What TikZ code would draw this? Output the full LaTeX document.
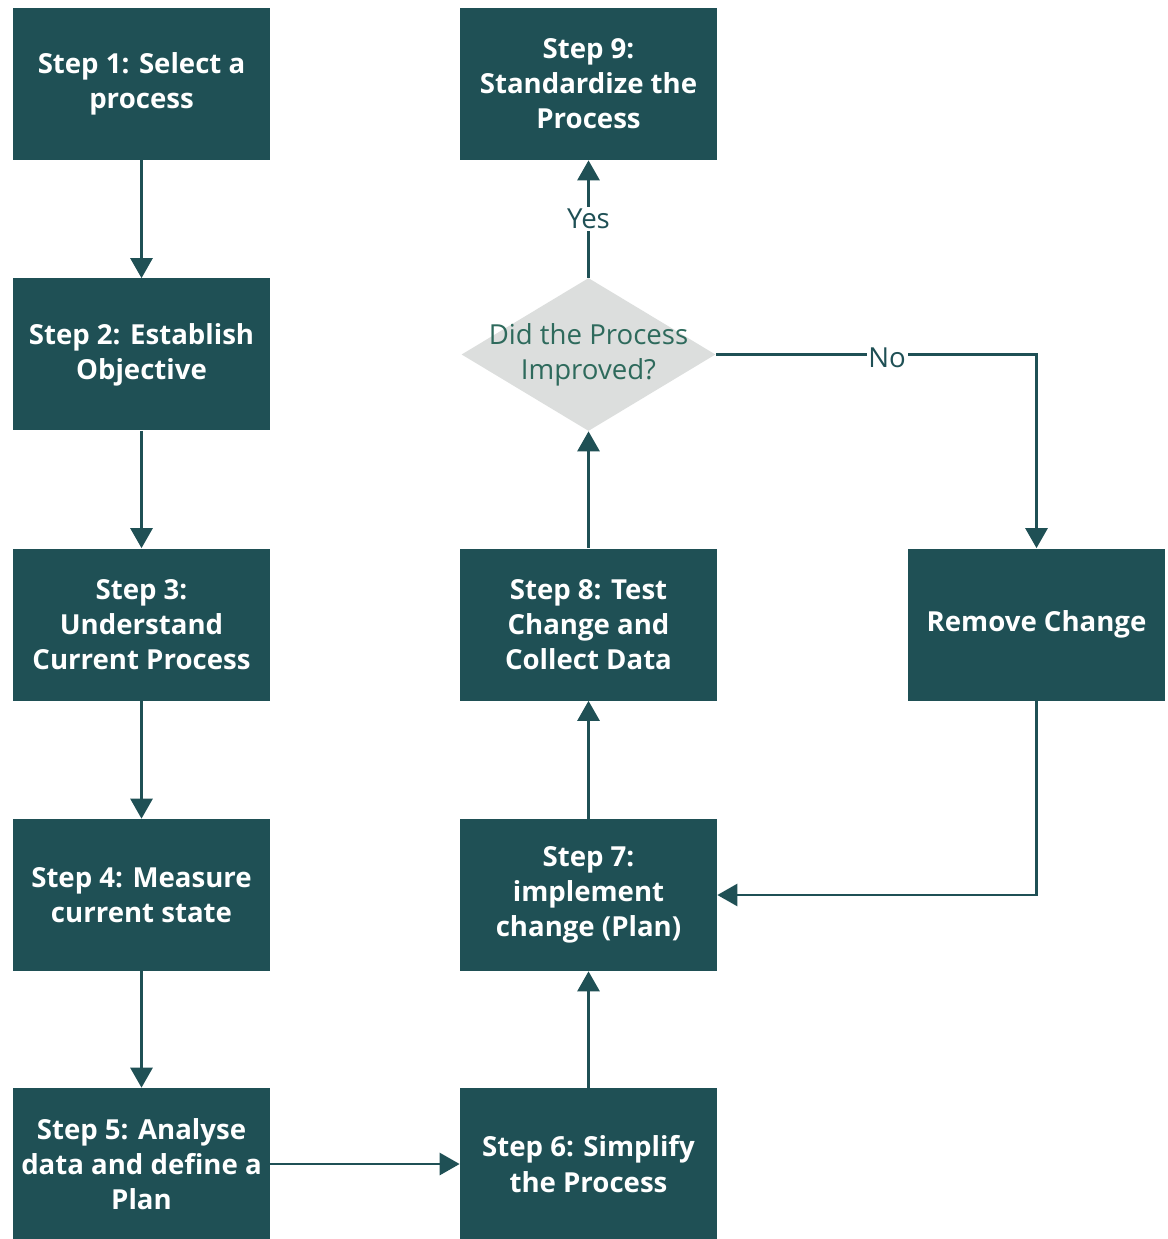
\documentclass[tikz,border=0pt]{standalone}
\usepackage{fontspec}
\setmainfont{Open Sans}
\usepackage{tikz}
\usetikzlibrary{arrows.meta, positioning, shapes.geometric}
\definecolor{stepteal}{HTML}{1F5055}
\definecolor{checkgray}{HTML}{DCDEDD}
\definecolor{checkgreen}{HTML}{2E6A5C}

\begin{document}
\begin{tikzpicture}[
        >={Triangle[width=0.44cm, length=0.4cm]},
        stepbox/.style={fill=stepteal, text=white, align=center, font=\fontsize{15.7}{20}\selectfont\bfseries,
            minimum width=5.14cm, minimum height=3.04cm, inner sep=2pt},
        arr/.style={->, line width=1.6pt, draw=stepteal},
        tag/.style={fill=white, text=stepteal, font=\fontsize{15.7}{20}\selectfont, inner sep=1pt},
    ]
    \useasboundingbox (0,0) rectangle (23.34,-24.78);

    % ---- Left column: steps 1 to 5 ----
    \node[stepbox] (s1) at (2.83, -1.68) {Step 1: Select a\\process};
    \node[stepbox] (s2) at (2.83, -7.09) {Step 2: Establish\\Objective};
    \node[stepbox] (s3) at (2.83, -12.49) {Step 3:\\Understand\\Current Process};
    \node[stepbox] (s4) at (2.83, -17.90) {Step 4: Measure\\current state};
    \node[stepbox] (s5) at (2.83, -23.28) {Step 5: Analyse\\data and define a\\Plan};

    % ---- Middle column: steps 6 to 9 and the check ----
    \node[stepbox] (s6) at (11.77, -23.28) {Step 6: Simplify\\the Process};
    \node[stepbox] (s7) at (11.77, -17.90) {Step 7:\\implement\\change (Plan)};
    \node[stepbox] (s8) at (11.77, -12.49) {Step 8: Test\\Change and\\Collect Data};
    \node[diamond, fill=checkgray, minimum width=5.08cm, minimum height=3.06cm, inner sep=0pt] (check) at (11.77, -7.09) {};
    \node[align=center, text=checkgreen, font=\fontsize{15.7}{20}\selectfont] (checklbl) at (check) {Did the Process\\Improved?};
    \node[stepbox] (s9) at (11.77, -1.68) {Step 9:\\Standardize the\\Process};

    % ---- Right column ----
    \node[stepbox] (rm) at (20.73, -12.49) {Remove Change};

    % ---- Connectors ----
    \draw[arr] (s1) -- (s2);
    \draw[arr] (s2) -- (s3);
    \draw[arr] (s3) -- (s4);
    \draw[arr] (s4) -- (s5);
    \draw[arr] (s5) -- (s6);
    \draw[arr] (s6) -- (s7);
    \draw[arr] (s7) -- (s8);
    \draw[arr] (s8) -- (check);
    \draw[arr] (check.north) -- node[tag] (yes) {Yes} (s9);
    \draw[arr] (check.east) -| node[tag, pos=0.267, yshift=-2pt] (no) {No} (rm.north);
    \draw[arr] (rm.south) |- (s7.east);

\end{tikzpicture}
\end{document}
